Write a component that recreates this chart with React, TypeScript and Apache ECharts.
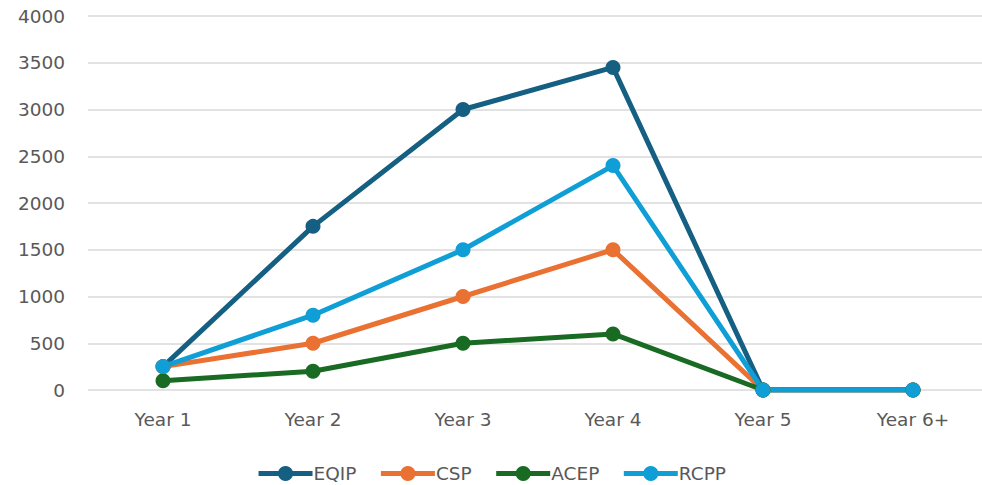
import React, { useEffect, useRef } from "react";
import * as echarts from "echarts";

const categories = ["Year 1", "Year 2", "Year 3", "Year 4", "Year 5", "Year 6+"];
const eqip = [250, 1750, 3000, 3450, 0, 0];
const csp = [250, 500, 1000, 1500, 0, 0];
const acep = [100, 200, 500, 600, 0, 0];
const rcpp = [250, 800, 1500, 2400, 0, 0];
const seriesNames = ["EQIP", "CSP", "ACEP", "RCPP"];
const colors = ["#156082", "#E97132", "#196B24", "#0F9ED5"];

export default function App() {
  const ref = useRef<HTMLDivElement>(null);
  useEffect(() => {
    if (!ref.current) return;
    const chart = echarts.init(ref.current, null, { renderer: "svg" });
    const font = "DejaVu Sans, sans-serif";
    const data = [eqip, csp, acep, rcpp];
    chart.setOption({
      animation: false,
      backgroundColor: "#ffffff",
      textStyle: { fontFamily: font },
      grid: {
        left: 88,
        top: 16,
        width: 900,
        height: 374,
        containLabel: false,
        outerBoundsMode: "none",
      },
      xAxis: {
        type: "category",
        data: categories,
        boundaryGap: true,
        axisLine: { show: false },
        axisTick: { show: false },
        axisLabel: { color: "#595959", fontSize: 18.5, margin: 20, fontFamily: font },
      },
      yAxis: {
        type: "value",
        min: 0,
        max: 4000,
        interval: 500,
        axisLine: { show: false },
        axisTick: { show: false },
        splitLine: { lineStyle: { color: "#d9d9d9", width: 1.5 } },
        axisLabel: {
          color: "#595959",
          fontSize: 18.5,
          margin: 23,
          fontFamily: font,
          formatter: (v: number) => String(v),
        },
      },
      legend: {
        bottom: -3,
        left: "center",
        itemWidth: 54,
        itemHeight: 19,
        itemGap: 22,
        lineStyle: { width: 5 },
        textStyle: { color: "#595959", fontSize: 18.5, fontFamily: font, padding: [0, 0, 0, -4] },
        data: seriesNames,
      },
      series: seriesNames.map((name, i) => ({
        name,
        type: "line",
        data: data[i],
        color: colors[i],
        symbol: "circle",
        symbolSize: 15,
        lineStyle: { width: 5, color: colors[i] },
        itemStyle: { color: colors[i] },
      })),
    });
    return () => chart.dispose();
  }, []);
  return <div ref={ref} style={{ width: 982, height: 485, position: "absolute", left: 0, top: 0 }} />;
}
